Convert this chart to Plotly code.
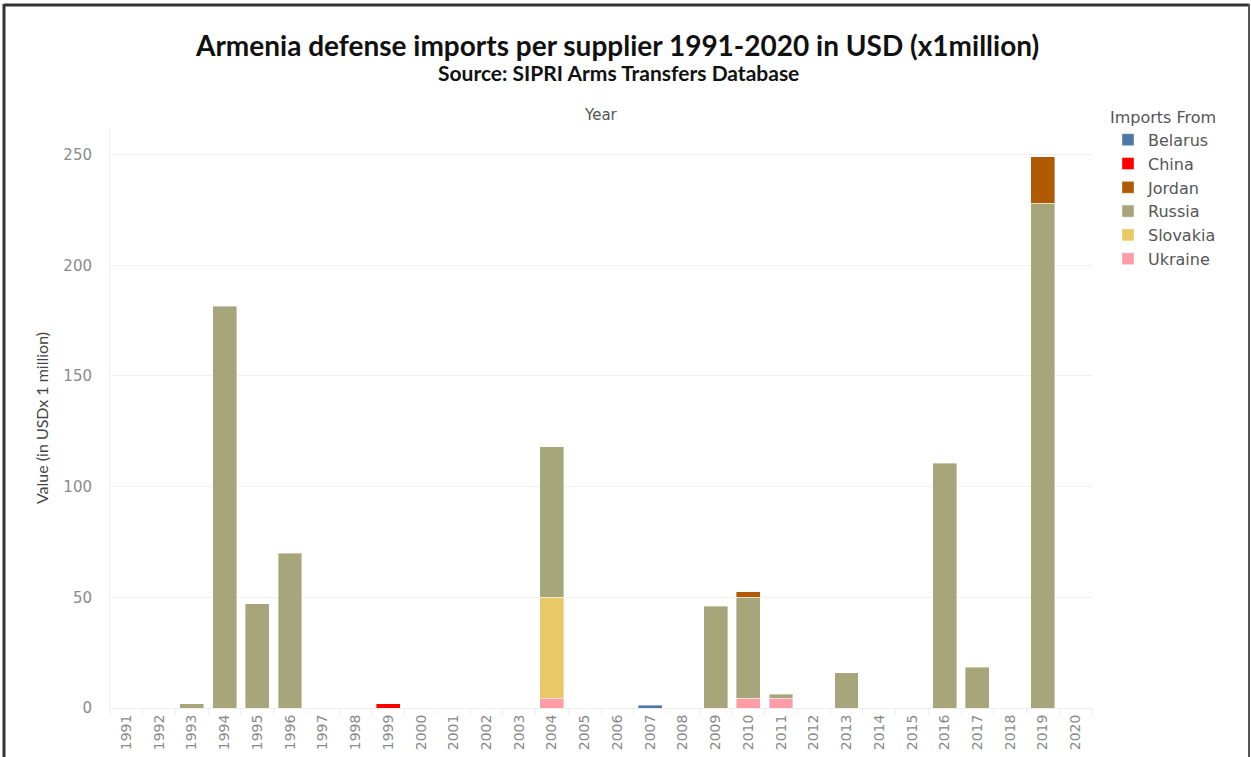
import plotly.graph_objects as go

years = [str(y) for y in range(1991, 2021)]

# values in USD millions, per supplier, per year (1991..2020)
belarus  = [0,0,0,0,0,0,0,0,0,0,0,0,0,0,0,0,1.2,0,0,0,0,0,0,0,0,0,0,0,0,0]
china    = [0,0,0,0,0,0,0,0,2,0,0,0,0,0,0,0,0,0,0,0,0,0,0,0,0,0,0,0,0,0]
jordan   = [0,0,0,0,0,0,0,0,0,0,0,0,0,0,0,0,0,0,0,2.5,0,0,0,0,0,0,0,0,21,0]
russia   = [0,0,2,181.5,47,70,0,0,0,0,0,0,0,68,0,0,0,0,46,45.5,1.8,0,16,0,0,110.5,18.5,0,228,0]
slovakia = [0,0,0,0,0,0,0,0,0,0,0,0,0,45.5,0,0,0,0,0,0,0,0,0,0,0,0,0,0,0,0]
ukraine  = [0,0,0,0,0,0,0,0,0,0,0,0,0,4.5,0,0,0,0,0,4.5,4.5,0,0,0,0,0,0,0,0,0]

y_ticks = [0, 50, 100, 150, 200, 250]

series = [
    ("Ukraine", ukraine, "#ff9da7", 6),
    ("Slovakia", slovakia, "#e8c965", 5),
    ("Russia", russia, "#a6a67a", 4),
    ("Jordan", jordan, "#b05a04", 3),
    ("China", china, "#ff0000", 2),
    ("Belarus", belarus, "#4e79a7", 1),
]

fig = go.Figure()
for name, vals, color, rank in series:
    fig.add_trace(go.Bar(
        x=years, y=[v if v else None for v in vals], name=name,
        marker=dict(color=color, line=dict(color="rgba(255,255,255,0.5)", width=0.8)),
        legendrank=rank,
    ))

W, H = 1251, 757
L, R, T, B = 110, 159, 128, 49
pw, ph = W - L - R, H - T - B

def px(x):
    return (x - L) / pw

def py(y):
    return (H - B - y) / ph

WIDE = "DejaVu Sans, Verdana, sans-serif"

fig.update_layout(
    width=W, height=H,
    margin=dict(l=L, r=R, t=T, b=B),
    barmode="stack",
    bargap=0.27,
    plot_bgcolor="white",
    paper_bgcolor="white",
    font=dict(family=WIDE, color="#666666"),
    showlegend=True,
    legend=dict(
        title=dict(text="Imports From", font=dict(size=16, color="#555555")),
        x=px(1108), xanchor="left", y=py(102), yanchor="top",
        font=dict(size=16, color="#555555"),
        traceorder="normal",
        itemwidth=30,
        tracegroupgap=0,
    ),
    xaxis=dict(
        type="category",
        tickangle=-90,
        tickfont=dict(family=WIDE, size=14, color="#8a8a8a"),
        showgrid=False,
        ticks="outside", tickson="boundaries", ticklen=6, tickcolor="#eeeeee",
        showline=True, linecolor="#eeeeee", linewidth=1,
        automargin=False,
    ),
    yaxis=dict(
        range=[0, 262],
        tickvals=y_ticks,
        tickfont=dict(family=WIDE, size=15, color="#8a8a8a"),
        showgrid=True, gridcolor="#f0f0f0", gridwidth=1,
        zeroline=False,
        showline=True, linecolor="#f0f0f0", linewidth=1,
        ticks="outside", ticklen=14, tickcolor="white",
        automargin=False,
        title=dict(text="Value (in USDx 1 million)",
                   font=dict(family="Lato, sans-serif", size=16, color="#444444"),
                   standoff=10),
    ),
    annotations=[
        dict(text="<b>Armenia defense imports per supplier 1991-2020 in USD (x1million)</b>",
             x=px(617), xref="paper", y=py(45), yref="paper", showarrow=False,
             xanchor="center", yanchor="middle",
             font=dict(family="Lato, sans-serif", size=28, color="#111111")),
        dict(text="<b>Source: SIPRI Arms Transfers Database</b>",
             x=px(618), xref="paper", y=py(73), yref="paper", showarrow=False,
             xanchor="center", yanchor="middle",
             font=dict(family="Lato, sans-serif", size=21, color="#111111")),
        dict(text="Year", x=0.5, xref="paper", y=py(115), yref="paper",
             showarrow=False, font=dict(family=WIDE, size=15, color="#555555"),
             xanchor="center", yanchor="middle"),
    ],
    shapes=[
        dict(type="line", xref="paper", yref="paper", x0=px(4), x1=px(4), y0=py(4), y1=py(757),
             line=dict(color="#333333", width=3)),
        dict(type="line", xref="paper", yref="paper", x0=px(4), x1=px(1249), y0=py(5), y1=py(5),
             line=dict(color="#333333", width=3)),
        dict(type="line", xref="paper", yref="paper", x0=px(1249), x1=px(1249), y0=py(4), y1=py(757),
             line=dict(color="#555555", width=2)),
    ],
)

fig.write_html("out.html")
